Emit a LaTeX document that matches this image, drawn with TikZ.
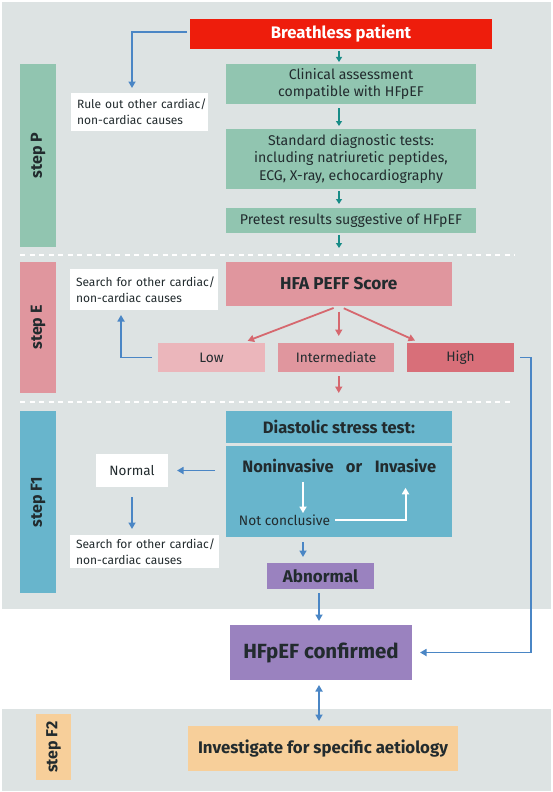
\documentclass[tikz,border=0pt]{standalone}
\usepackage{fontspec}
\setmainfont{Fira Sans}
\usetikzlibrary{arrows.meta}
\definecolor{bggray}{HTML}{DDE3E3}
\definecolor{green1}{HTML}{91C5B0}
\definecolor{red1}{HTML}{EE1D0C}
\definecolor{pink1}{HTML}{EBB6BB}
\definecolor{pink2}{HTML}{E0969E}
\definecolor{pink3}{HTML}{D86F79}
\definecolor{redarr}{HTML}{D6686F}
\definecolor{blue2}{HTML}{68B5CC}
\definecolor{bluearr}{HTML}{4A86C5}
\definecolor{purple1}{HTML}{9A82BF}
\definecolor{orange1}{HTML}{F7CF9A}
\definecolor{tealarr}{HTML}{188C87}
\definecolor{txt}{HTML}{222B2E}
\newcommand{\fs}[2]{\fontsize{#1}{#2}\selectfont}
\begin{document}
\begin{tikzpicture}[x=1pt,y=-1pt,
  fbox/.style={rectangle, inner sep=0pt, outer sep=0pt, align=center, text=txt},
  lbox/.style={rectangle, inner ysep=0pt, inner xsep=6pt, outer sep=0pt, align=left, text=txt, fill=white},
  stepbar/.style={rectangle, inner sep=0pt, outer sep=0pt, rotate=90, text=txt, font=\fs{16}{19}\bfseries},
  tarr/.style={draw=tealarr, line width=1.5pt, -{Triangle[length=5pt,width=6pt]}},
  barr/.style={draw=bluearr, line width=1.9pt, -{Triangle[length=6.5pt,width=7pt]}},
  rarr/.style={draw=redarr, line width=1.8pt, -{Triangle[length=6.5pt,width=7pt]}},
  warr/.style={draw=white, line width=2pt, -{Triangle[length=6.5pt,width=7pt]}},
  dline/.style={draw=white, line width=1.8pt, dash pattern=on 5pt off 4.5pt},
  wline/.style={text height=12pt, text depth=3.5pt}
]
\useasboundingbox (0,0) rectangle (553,792);
\fill[white] (0,0) rectangle (553,792);
% backgrounds
\fill[bggray] (2,2) rectangle (551,609);
\fill[bggray] (2,709) rectangle (551,791);

% step P
\node[fbox, fill=red1, minimum width=302, minimum height=30, text=white, font=\fs{16.7}{19}\bfseries] (bp) at (341,34) {Breathless patient};
\node[fbox, fill=green1, minimum width=250, minimum height=40, font=\fs{14.1}{17.5}] (ca) at (351,84) {Clinical assessment\\compatible with HFpEF};
\node[fbox, fill=green1, minimum width=250, minimum height=60, font=\fs{14.1}{17.5}] (sd) at (351,159) {Standard diagnostic tests:\\including natriuretic peptides,\\ECG, X-ray, echocardiography};
\node[fbox, fill=green1, minimum width=250, minimum height=25, font=\fs{14.1}{17.5}] (pr) at (351,220.5) {Pretest results suggestive of HFpEF};
\node[lbox, text width=125pt, minimum height=38, font=\fs{12}{16}] (rule) at (139.5,112) {\mbox{Rule out other cardiac/}\\\mbox{non-cardiac causes}};
\node[stepbar, fill=green1, minimum width=183, minimum height=36] (stepP) at (38,155.5) {step P};

\coordinate (tx) at (339,0);
\coordinate (tend) at (339,248);
\draw[tarr, shorten <=2pt, shorten >=2pt] (bp.south -| tx) -- (ca.north -| tx);
\draw[tarr, shorten <=4pt, shorten >=3pt] (ca.south -| tx) -- (sd.north -| tx);
\draw[tarr, shorten <=2pt, shorten >=4pt] (sd.south -| tx) -- (pr.north -| tx);
\draw[tarr, shorten <=2pt] (pr.south -| tx) -- (tend);

\coordinate (rc) at (132,32);
\draw[barr, shorten <=3pt, shorten >=5pt] (bp.west |- rc) -- (rc) -- (rc |- rule.north);

\coordinate (d1a) at (20,255);
\coordinate (d1b) at (515,255);
\draw[dline] (d1a) -- (d1b);

% step E
\node[stepbar, fill=pink2, minimum width=131, minimum height=36] (stepE) at (38,327.5) {step E};
\node[fbox, fill=pink2, minimum width=225.5, minimum height=44, font=\fs{17.2}{19}\bfseries] (hfa) at (338.75,284) {HFA PEFF Score};
\node[lbox, text width=136pt, minimum height=41, font=\fs{12}{16}] (search1) at (144,289.5) {\mbox{Search for other cardiac/}\\\mbox{non-cardiac causes}};
\node[fbox, fill=pink1, minimum width=107, minimum height=29, font=\fs{13.7}{16}] (low) at (211.5,357.5) {Low};
\node[fbox, fill=pink2, minimum width=116, minimum height=29, font=\fs{13.7}{16}] (int) at (336,357.5) {Intermediate};
\node[fbox, fill=pink3, minimum width=107, minimum height=29, font=\fs{13.7}{16}] (high) at (460.5,357.5) {High};

\draw[rarr, shorten <=5.5pt, shorten >=6pt] (hfa.south) -- ([xshift=30.5pt]low.north);
\draw[rarr, shorten <=5.5pt, shorten >=7pt] (hfa.south) -- (hfa.south |- int.north);
\draw[rarr, shorten <=5.5pt, shorten >=6pt] (hfa.south) -- ([xshift=-40pt]high.north);
\coordinate (iend) at (338.75,393);
\draw[rarr, shorten <=4pt] (int.south -| iend) -- (iend);

\coordinate (lc) at (121,357.5);
\draw[barr, shorten <=6pt, shorten >=5pt] (low.west) -- (lc) -- (lc |- search1.south);

\coordinate (d2a) at (20,402);
\coordinate (d2b) at (513,402);
\draw[dline] (d2a) -- (d2b);

% step F1
\node[stepbar, fill=blue2, minimum width=182, minimum height=36] (stepF1) at (38,502) {step F1};
\node[fbox, fill=blue2, minimum width=226, minimum height=32, font=\fs{16.5}{18}\bfseries] (hd) at (339,427) {Diastolic stress test:};
\node[fbox, fill=blue2, minimum width=226, minimum height=91] (lb) at (339,491.5) {};
\node[fbox, wline, font=\fs{16.5}{19}\bfseries] (noninv) at (288,468) {Noninvasive};
\node[fbox, wline, font=\fs{16.5}{19}\bfseries] (ornode) at (354,468) {or};
\node[fbox, wline, font=\fs{16.5}{19}\bfseries] (invs) at (405.5,468) {Invasive};
\node[fbox, font=\fs{13.7}{16}] (notc) at (284.5,520) {Not conclusive};
\coordinate (wx) at ([xshift=15pt]noninv.south);
\draw[warr, shorten <=6pt, shorten >=1.5pt] (wx) -- (notc.north -| wx);
\draw[warr, shorten <=5pt, shorten >=12pt] (notc.east) -| (invs.south);

\node[fbox, fill=white, minimum width=72, minimum height=33, font=\fs{13.5}{16}] (normal) at (132,470.5) {Normal};
\node[lbox, text width=137pt, minimum height=33, font=\fs{12}{16}] (search2) at (144.5,551.5) {\mbox{Search for other cardiac/}\\\mbox{non-cardiac causes}};
\node[fbox, fill=purple1, minimum width=107, minimum height=26, font=\fs{17}{18}\bfseries] (abn) at (320.5,576) {Abnormal};

\draw[barr, shorten <=11pt, shorten >=9pt] (lb.west |- normal) -- (normal.east);
\draw[barr, shorten <=10pt, shorten >=6pt] (normal.south) -- (search2.north -| normal.south);
\coordinate (ax) at (303,0);
\draw[barr, shorten <=5pt, shorten >=6pt] (lb.south -| ax) -- (abn.north -| ax);

% confirmed
\node[fbox, fill=purple1, minimum width=182, minimum height=55, font=\fs{20.5}{22}\bfseries] (conf) at (321,652.5) {HFpEF confirmed};
\coordinate (cx) at (319,0);
\draw[barr, shorten <=4pt, shorten >=4pt] (abn.south -| cx) -- (conf.north -| cx);
\coordinate (hc) at (531,357.5);
\draw[barr, shorten <=6pt, shorten >=8pt] (high.east) -- (hc) |- (conf.east);

% step F2
\node[stepbar, fill=orange1, minimum width=66, minimum height=35] (stepF2) at (53.5,747) {step F2};
\node[fbox, fill=orange1, minimum width=270, minimum height=45, font=\fs{16.8}{19}\bfseries] (inv) at (323,748.5) {Investigate for specific aetiology};
\draw[barr, {Triangle[length=6.5pt,width=7pt]}-{Triangle[length=6.5pt,width=7pt]}, shorten <=5pt, shorten >=5pt] (conf.south -| cx) -- (inv.north -| cx);
\end{tikzpicture}
\end{document}
